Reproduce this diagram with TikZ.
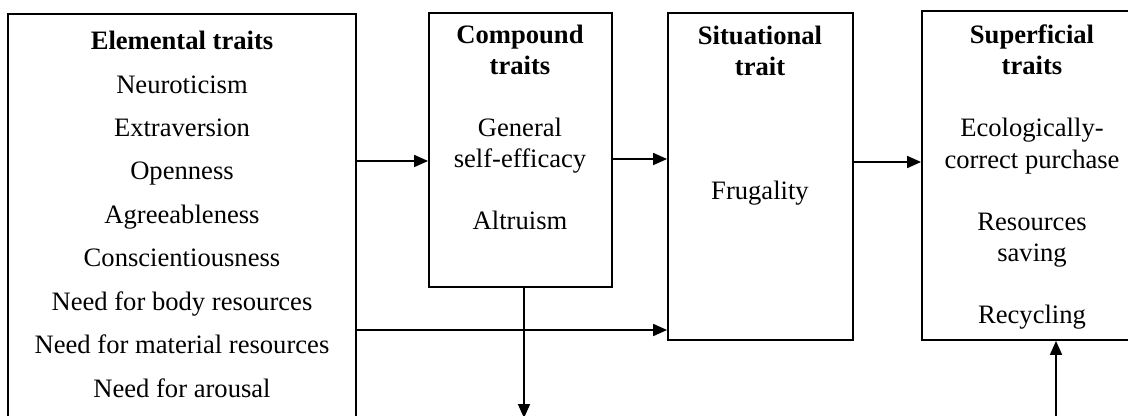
\documentclass[tikz,border=0pt]{standalone}
\usepackage{fontspec}
\setmainfont{Liberation Serif}
\usepackage{tikz}
\usetikzlibrary{arrows.meta}

\begin{document}
\begin{tikzpicture}[
  x=0.5pt, y=-0.5pt,
  frame/.style={draw, line width=0.9pt, inner sep=0pt},
  label/.style={anchor=base, align=center, inner sep=0pt,
    font=\fontsize{13.3}{15.5}\selectfont},
  link/.style={line width=0.85pt, -{Triangle[length=7pt,width=6pt]}},
]
\clip (0,0) rectangle (1128,416);
\node[frame, minimum width=174pt, minimum height=213pt] (elem) at (182,227) {};
\node[frame, minimum width=91.5pt, minimum height=137pt] (comp) at (520.5,150) {};
\node[frame, minimum width=92.5pt, minimum height=163.5pt] (situ) at (760.5,176.5) {};
\node[frame, minimum width=110pt, minimum height=164.5pt] (sup) at (1032,175.5) {};
\node[label, font=\fontsize{13.3}{21.7}\selectfont] (elemtext) at (182,397)
  {\textbf{Elemental traits}\\Neuroticism\\Extraversion\\Openness\\Agreeableness\\
   Conscientiousness\\Need for body resources\\Need for material resources\\Need for arousal};
\node[label] (comptext) at (520,230)
  {\textbf{Compound}\\\textbf{traits}\\[15.5pt]General\\self-efficacy\\[15.5pt]Altruism};
\node[label] (situtext) at (760,200)
  {\textbf{Situational}\\\textbf{trait}\\[46.5pt]Frugality};
\node[label] (suptext) at (1032,323)
  {\textbf{Superficial}\\\textbf{traits}\\[15.5pt]Ecologically-\\correct purchase\\[15.5pt]Resources\\saving\\[15.5pt]Recycling};
\coordinate (down) at (524,418);
\coordinate (up) at (1056,430);
\draw[link] (elem.east |- 0,161) -- (comp.west |- 0,161);
\draw[link] (comp.east |- 0,159) -- (situ.west |- 0,159);
\draw[link] (situ.east |- 0,162) -- (sup.west |- 0,162);
\draw[link] (elem.east |- 0,330) -- (situ.west |- 0,330);
\draw[link] (comp.south -| down) -- (down);
\draw[link] (up) -- (sup.south -| up);
\end{tikzpicture}
\end{document}
